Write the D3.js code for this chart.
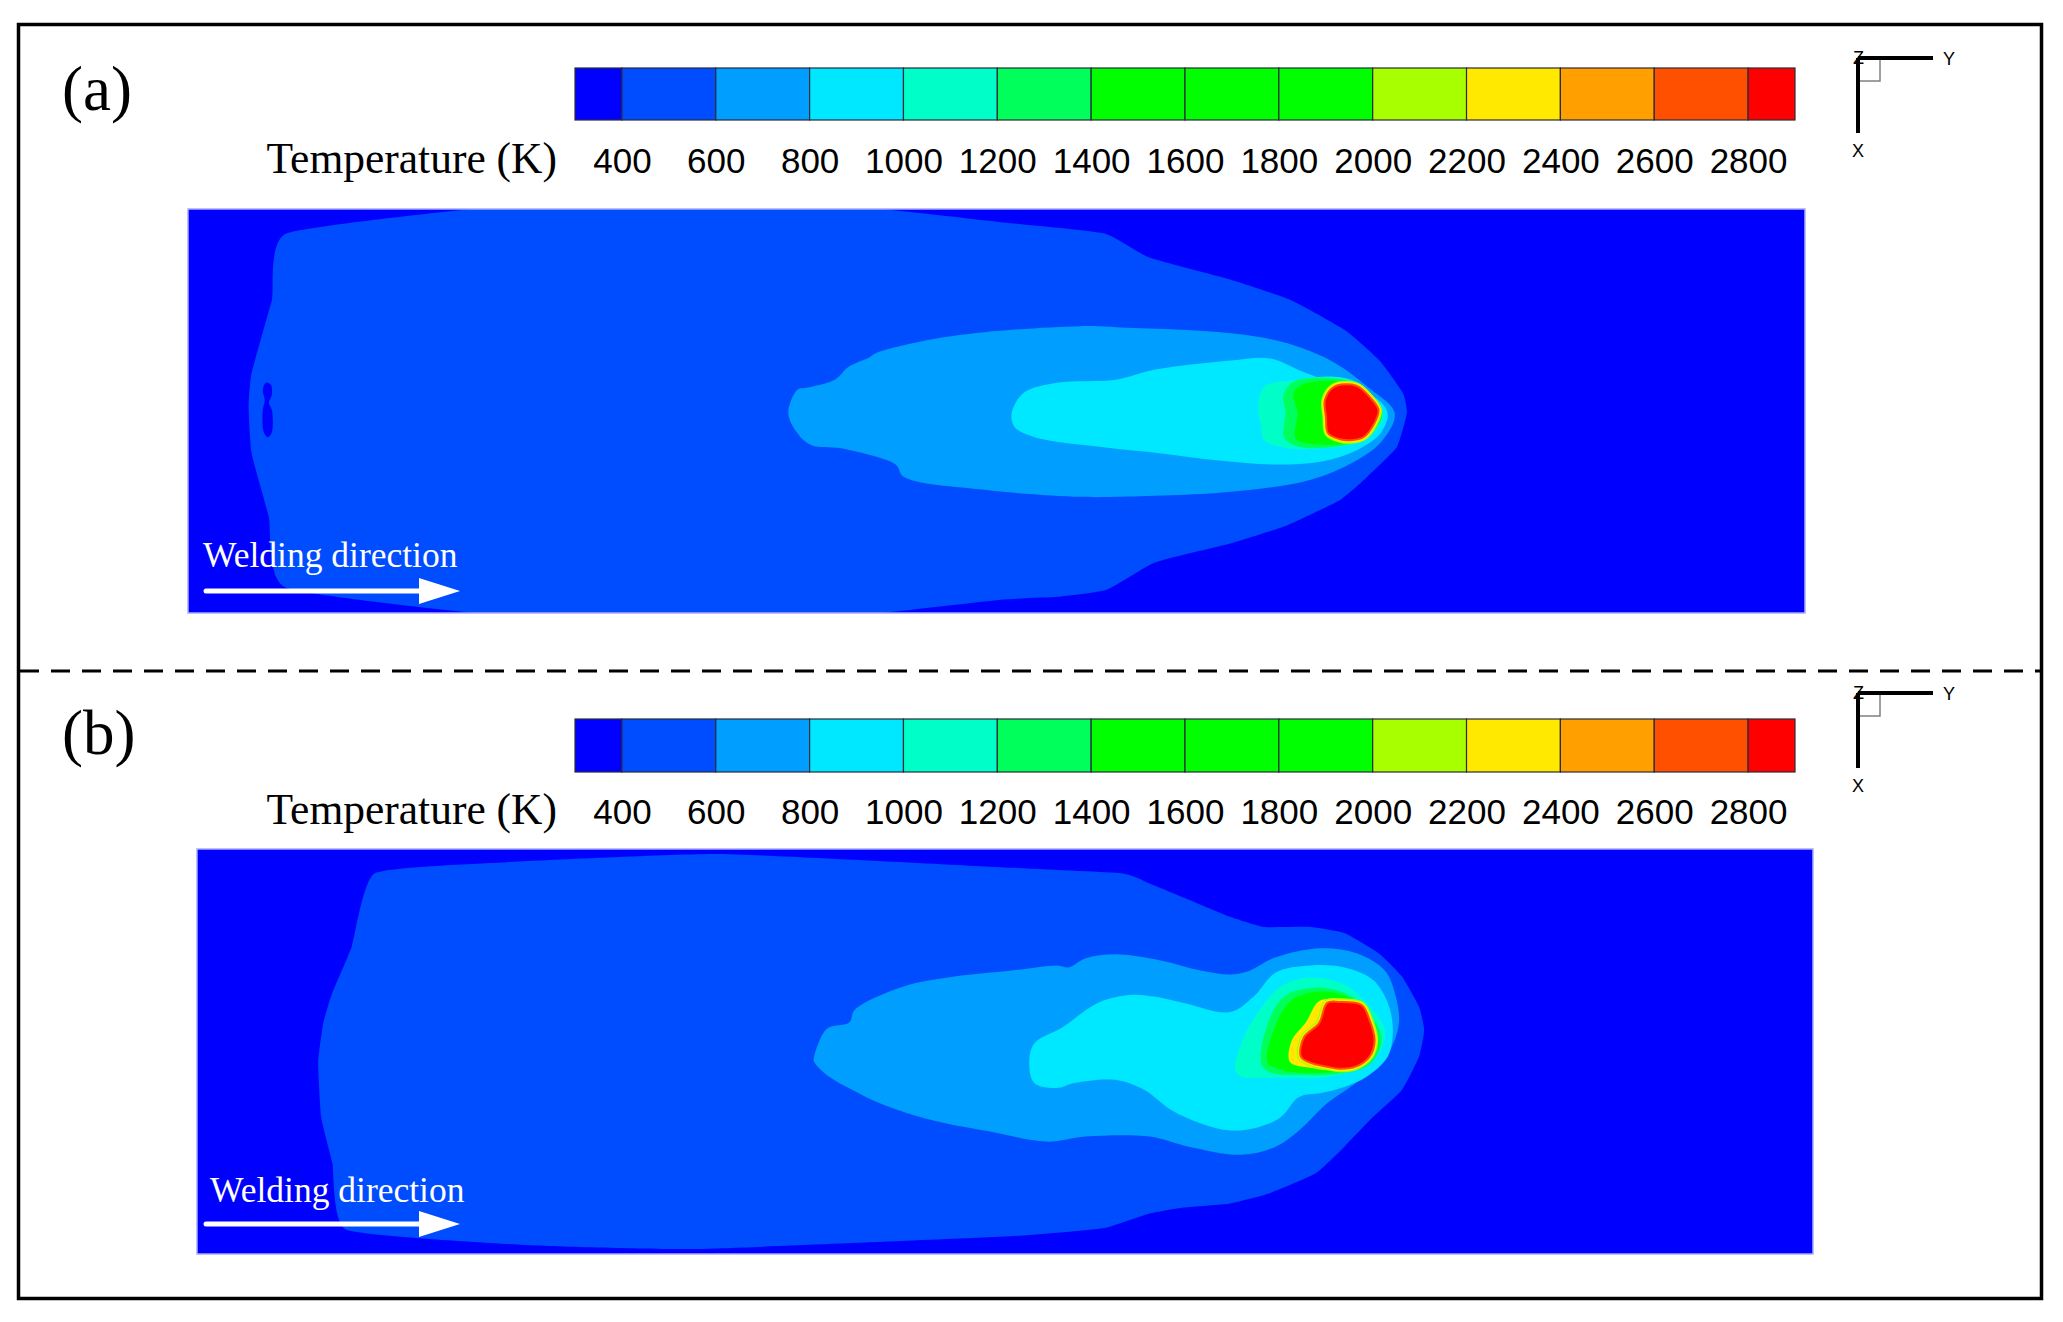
<!DOCTYPE html>
<html>
<head>
<meta charset="utf-8">
<script src="https://cdn.jsdelivr.net/npm/d3@7"></script>
<style>
  body { margin: 0; background: #fff; }
  svg { display: block; }
</style>
</head>
<body>
<svg id="chart"></svg>
<script>
// temperature levels of the colour bar (K)
const tempLevels = [400, 600, 800, 1000, 1200, 1400, 1600, 1800, 2000, 2200, 2400, 2600, 2800];
const levelColors = ["#0000ff", "#004cff", "#009eff", "#00e8ff", "#00ffc8", "#00ff5a", "#00ff00",
  "#00ff00", "#00ff00", "#a8ff00", "#ffe900", "#ffa000", "#ff5000", "#ff0000"];
const barMin = 300, barMax = 2900;
const plateLength = 160, plateWidth = 40; // mm

// isotherm outlines, panel (a): [x mm, y mm]
const a400 = [[9.8,2.4],[33.9,-0.5],[62.9,-0.5],[80.4,1.3],[90.6,2.4],[95.1,4.8],[103.2,7.0],[109.1,9.0],[114.5,12.0],[117.9,15.0],[120.2,18.2],[120.6,20.2],[119.6,23.6],[116.7,26.5],[114.0,28.8],[108.8,31.3],[103.2,33.1],[95.7,35.0],[90.9,37.7],[86.0,38.4],[80.4,38.7],[62.9,40.5],[33.9,40.5],[9.7,37.5],[8.0,30.5],[6.3,24.2],[6.0,19.6],[6.3,16.2],[8.3,9.0]];
const aCold = [[7.7,17.2],[8.2,17.4],[8.3,18.4],[8.0,19.2],[8.3,19.9],[8.3,22.1],[7.9,22.6],[7.5,22.1],[7.4,19.9],[7.6,18.9],[7.4,18.0]];
const a600 = [[59.4,20.2],[60.3,17.9],[61.2,17.7],[64.0,16.9],[65.4,15.6],[67.4,14.7],[68.0,14.3],[73.1,13.0],[78.8,12.2],[88.3,11.6],[91.8,11.7],[103.2,12.3],[108.8,13.3],[113.4,15.2],[116.7,17.6],[119.4,20.2],[118.2,22.9],[115.6,24.9],[111.1,26.8],[103.2,28.0],[91.8,28.5],[88.3,28.5],[78.8,27.8],[70.8,26.5],[70.2,25.5],[69.7,25.1],[64.6,23.7],[61.7,23.4],[60.3,22.2]];
const a800 = [[81.5,20.2],[82.7,18.2],[86.0,17.2],[91.8,16.9],[95.7,15.9],[103.2,15.0],[107.1,14.8],[110.5,16.2],[114.5,17.6],[117.5,18.7],[118.7,20.2],[118.0,22.2],[115.6,23.9],[112.2,25.0],[107.7,25.3],[102.0,24.9],[96.3,24.2],[90.6,23.6],[83.8,22.6],[81.8,21.6]];
const a1000 = [[105.9,19.6],[106.5,17.6],[109.9,16.9],[113.4,16.6],[115.6,17.1],[117.4,18.7],[118.3,20.2],[117.6,21.9],[115.6,23.2],[112.2,23.7],[108.8,23.7],[106.5,22.9],[106.2,21.6]];
const a1200 = [[108.4,18.4],[109.6,17.0],[115.6,17.2],[117.2,18.5],[118.2,20.2],[117.4,21.9],[115.6,23.1],[110.2,23.6],[108.5,22.7],[108.6,20.2]];
const a1400 = [[109.4,18.2],[110.5,17.3],[115.6,17.3],[117.2,18.6],[118.1,20.2],[117.3,21.9],[115.6,23.0],[111.4,23.3],[109.6,22.7],[109.8,20.2]];
const a2800 = [[112.5,18.9],[113.4,17.6],[115.6,17.5],[117.0,18.7],[117.8,19.9],[117.4,21.2],[116.3,22.6],[115.0,22.9],[114.0,22.8],[112.8,22.2],[112.6,20.6]];

// isotherm outlines, panel (b)
const b400 = [[17.6,2.4],[30.7,1.3],[51.8,0.5],[79.5,1.8],[91.5,2.4],[94.3,3.4],[98.2,5.0],[102.3,6.7],[105.6,7.7],[110.2,7.7],[113.6,8.3],[117.0,10.3],[119.3,12.6],[121.0,15.6],[121.5,17.9],[121.0,20.5],[119.3,23.8],[116.4,26.5],[113.6,29.4],[110.8,32.0],[106.2,34.0],[102.3,35.0],[97.7,35.4],[94.3,36.0],[90.0,37.4],[85.1,37.9],[79.5,38.3],[49.5,39.5],[32.4,39.1],[14.8,37.6],[13.4,31.0],[12.3,26.5],[12.0,21.1],[12.5,17.2],[13.4,14.2],[15.3,9.7]];
const b600 = [[61.1,20.5],[62.0,18.2],[62.6,17.6],[64.6,17.1],[65.1,15.9],[69.9,13.6],[75.0,12.6],[80.7,12.0],[85.2,11.5],[86.3,11.7],[88.0,10.8],[90.9,10.4],[95.4,11.0],[99.4,12.0],[102.3,12.4],[104.0,12.1],[106.8,10.7],[111.3,9.8],[114.8,10.3],[117.6,12.0],[118.7,14.6],[119.0,17.2],[118.1,19.9],[116.4,21.8],[114.2,23.5],[111.9,25.1],[109.1,27.8],[106.8,29.4],[103.4,30.2],[98.2,29.4],[94.3,28.4],[88.0,28.4],[84.1,28.9],[79.0,28.0],[72.8,26.8],[67.6,25.1],[64.9,23.8],[62.6,22.5],[61.1,21.0]];
const b800 = [[82.4,21.1],[82.9,19.2],[85.7,17.6],[89.2,15.2],[92.6,14.4],[94.9,14.6],[97.7,15.2],[102.3,16.1],[104.6,14.6],[106.8,12.2],[110.2,11.5],[113.6,11.7],[116.4,12.9],[117.9,15.2],[118.4,17.9],[117.9,20.5],[115.8,22.5],[113.6,23.5],[111.3,24.1],[109.1,24.5],[107.3,26.5],[105.0,27.5],[102.3,27.8],[99.4,27.1],[96.5,25.8],[93.8,23.8],[90.9,22.8],[86.9,23.1],[85.1,23.6],[82.9,23.1]];
const b1000 = [[102.8,21.8],[103.4,19.2],[105.0,16.2],[107.3,13.6],[110.2,12.7],[113.6,13.4],[115.8,15.2],[117.6,17.9],[116.8,20.5],[114.8,21.8],[111.3,22.6],[107.9,22.6],[105.0,22.6],[103.4,22.5]];
const b1200 = [[105.4,21.3],[105.8,17.9],[107.5,14.7],[110.5,13.7],[113.8,14.3],[115.7,15.9],[117.3,18.6],[116.3,21.1],[113.8,22.1],[109.1,22.3],[106.4,22.1]];
const b1400 = [[106.0,21.1],[106.6,17.9],[108.2,15.1],[110.9,14.1],[114.1,14.7],[115.9,16.6],[117.0,19.2],[115.9,21.1],[113.6,21.9],[109.1,22.1],[107.4,21.8]];
const b2200 = [[108.2,21.0],[108.4,18.9],[109.8,17.1],[111.0,15.1],[112.2,14.8],[115.4,15.2],[116.3,16.9],[116.8,18.9],[116.1,20.7],[114.7,21.7],[113.0,21.9],[110.2,21.6]];
const b2800 = [[109.3,20.5],[109.6,18.6],[111.1,17.2],[111.9,15.2],[113.1,15.1],[115.3,15.4],[116.1,16.9],[116.6,18.9],[116.1,20.5],[114.7,21.5],[113.1,21.7],[111.9,21.5],[110.2,21.1]];

const W = 2063, H = 1322;
const color = d3.scaleThreshold().domain(tempLevels).range(levelColors);

const panels = [
  {id: "a", label: "(a)", labelY: 110, barY: 68, barH: 52, tickBase: 173,
   plate: [188, 209, 1805, 613], triadY: 58, textX: 203, textY: 567, arrowY: 591,
   contours: [{t: 400, pts: a400, sharp: true}, {t: 300, pts: aCold}, {t: 600, pts: a600}, {t: 800, pts: a800},
     {t: 1000, pts: a1000}, {t: 1200, pts: a1200}, {t: 1400, pts: a1400}, {t: 2800, pts: a2800, hot: true}]},
  {id: "b", label: "(b)", labelY: 754, barY: 719, barH: 53, tickBase: 824,
   plate: [197, 849, 1813, 1254], triadY: 693, textX: 210, textY: 1202, arrowY: 1224,
   contours: [{t: 400, pts: b400, sharp: true}, {t: 600, pts: b600}, {t: 800, pts: b800}, {t: 1000, pts: b1000},
     {t: 1200, pts: b1200}, {t: 1400, pts: b1400}, {t: 2200, pts: b2200}, {t: 2800, pts: b2800, hot: true}]}
];

const svg = d3.select("#chart").attr("width", W).attr("height", H);
svg.append("rect").attr("width", W).attr("height", H).attr("fill", "#fff");

// outer frame and separator
svg.append("rect").attr("x", 18.5).attr("y", 24.5).attr("width", 2023).attr("height", 1274)
  .attr("fill", "none").attr("stroke", "#000").attr("stroke-width", 3.5);
svg.append("line").attr("x1", 20).attr("x2", 2040).attr("y1", 671).attr("y2", 671)
  .attr("stroke", "#000").attr("stroke-width", 3).attr("stroke-dasharray", "19,12");

const xBar = d3.scaleLinear().domain([barMin, barMax]).range([575, 1795]);
const bins = [barMin, ...tempLevels, barMax];

panels.forEach(p => {
  const g = svg.append("g");

  g.append("text").attr("x", 62).attr("y", p.labelY)
    .attr("font-family", "Liberation Serif, Times New Roman, serif").attr("font-size", 63)
    .text(p.label);

  // colour bar
  g.selectAll(".cell").data(d3.pairs(bins)).join("rect")
    .attr("x", d => xBar(d[0])).attr("y", p.barY)
    .attr("width", d => xBar(d[1]) - xBar(d[0])).attr("height", p.barH)
    .attr("fill", d => color(d[0])).attr("stroke", "#2a2a3a").attr("stroke-width", 1.2);

  const pad = p.tickBase - (p.barY + p.barH) - 0.71 * 35;
  const ax = g.append("g").attr("transform", `translate(0,${p.barY + p.barH})`)
    .call(d3.axisBottom(xBar).tickValues(tempLevels).tickSize(0).tickPadding(pad).tickFormat(d3.format("d")));
  ax.select(".domain").remove();
  ax.selectAll("text").attr("font-family", "Liberation Sans, Arial, sans-serif")
    .attr("font-size", 35).attr("fill", "#000");

  g.append("text").attr("x", 557).attr("y", p.tickBase).attr("text-anchor", "end")
    .attr("font-family", "Liberation Serif, Times New Roman, serif").attr("font-size", 43.5)
    .text("Temperature (K)");

  // axis triad
  const tx = 1858, ty = p.triadY;
  g.append("rect").attr("x", tx).attr("y", ty).attr("width", 22).attr("height", 23)
    .attr("fill", "none").attr("stroke", "#808080").attr("stroke-width", 1.5);
  g.append("line").attr("x1", tx).attr("x2", tx + 75).attr("y1", ty).attr("y2", ty)
    .attr("stroke", "#000").attr("stroke-width", 4);
  g.append("line").attr("x1", tx).attr("x2", tx).attr("y1", ty).attr("y2", ty + 75)
    .attr("stroke", "#000").attr("stroke-width", 4);
  const triadFont = t => t.attr("font-family", "Liberation Sans, Arial, sans-serif").attr("font-size", 18);
  g.append("text").attr("x", tx - 5).attr("y", ty + 6).call(triadFont).text("Z");
  g.append("text").attr("x", tx + 85).attr("y", ty + 7).call(triadFont).text("Y");
  g.append("text").attr("x", tx - 6).attr("y", ty + 99).call(triadFont).text("X");

  // plate with isotherms
  const [x0, y0, x1, y1] = p.plate;
  const x = d3.scaleLinear().domain([0, plateLength]).range([x0, x1]);
  const y = d3.scaleLinear().domain([0, plateWidth]).range([y0, y1]);
  const smooth = d3.line().x(d => x(d[0])).y(d => y(d[1])).curve(d3.curveCatmullRomClosed.alpha(0.5));
  const tight = d3.line().x(d => x(d[0])).y(d => y(d[1])).curve(d3.curveCardinalClosed.tension(0.55));

  svg.append("clipPath").attr("id", "clip-" + p.id).append("rect")
    .attr("x", x0).attr("y", y0).attr("width", x1 - x0).attr("height", y1 - y0);
  const plate = g.append("g").attr("clip-path", `url(#clip-${p.id})`);
  plate.append("rect").attr("x", x0).attr("y", y0).attr("width", x1 - x0).attr("height", y1 - y0)
    .attr("fill", color(barMin));

  p.contours.forEach(c => {
    const d = (c.sharp ? tight : smooth)(c.pts);
    if (c.hot) {
      [[2000, 7], [2200, 4.5], [2600, 2]].forEach(([t, w]) => {
        plate.append("path").attr("d", d).attr("fill", color(c.t))
          .attr("stroke", color(t)).attr("stroke-width", w).attr("stroke-linejoin", "round");
      });
    } else {
      plate.append("path").attr("d", d).attr("fill", color(c.t));
    }
  });

  g.append("rect").attr("x", x0).attr("y", y0).attr("width", x1 - x0).attr("height", y1 - y0)
    .attr("fill", "none").attr("stroke", "#a8abff").attr("stroke-width", 1.5);

  // welding direction
  g.append("text").attr("x", p.textX).attr("y", p.textY)
    .attr("font-family", "Liberation Serif, Times New Roman, serif").attr("font-size", 35.5)
    .attr("fill", "#fff").text("Welding direction");
  g.append("line").attr("x1", 206).attr("x2", 425).attr("y1", p.arrowY).attr("y2", p.arrowY)
    .attr("stroke", "#fff").attr("stroke-width", 5).attr("stroke-linecap", "round");
  g.append("path").attr("d", d3.line()([[419, p.arrowY - 13], [460, p.arrowY], [419, p.arrowY + 13]]) + "Z")
    .attr("fill", "#fff");
});
</script>
</body>
</html>
